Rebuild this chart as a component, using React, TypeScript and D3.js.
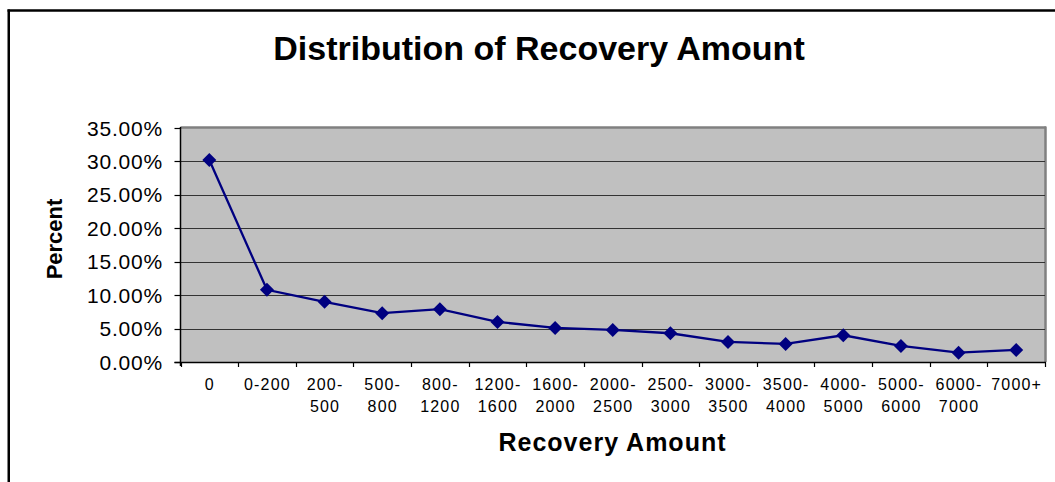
import React from "react";
import * as d3 from "d3";

const categories: string[][] = [
  ["0"], ["0-200"], ["200-", "500"], ["500-", "800"], ["800-", "1200"],
  ["1200-", "1600"], ["1600-", "2000"], ["2000-", "2500"], ["2500-", "3000"],
  ["3000-", "3500"], ["3500-", "4000"], ["4000-", "5000"], ["5000-", "6000"],
  ["6000-", "7000"], ["7000+"],
];
const percents: number[] = [30.2, 10.8, 9.0, 7.3, 7.9, 6.0, 5.1, 4.8, 4.3, 3.0, 2.7, 4.0, 2.4, 1.4, 1.8];
const yTicks: number[] = [0, 5, 10, 15, 20, 25, 30, 35];

const W = 1055, H = 482;
const L = 180.5, R = 1045, T = 128, B = 362;
const FONT = "'Liberation Sans', Arial, sans-serif";

export default function App() {
  const keys = categories.map((c) => c.join(""));
  const x = d3.scaleBand<string>().domain(keys).range([L, R]).padding(0);
  const y = d3.scaleLinear().domain([0, 35]).range([B, T]);
  const line = d3
    .line<number>()
    .x((_, i) => (x(keys[i]) as number) + x.bandwidth() / 2)
    .y((d) => y(d));
  const marker = d3.symbol(d3.symbolSquare, 98)() as string;

  return (
    <svg
      width={W}
      height={H}
      style={{ position: "absolute", left: 0, top: 0, display: "block", background: "#fff" }}
    >
      {/* outer frame */}
      <line x1={8.75} x2={8.75} y1={9.5} y2={H} stroke="#000" strokeWidth={2.5} />
      <line x1={7.5} x2={W} y1={10.5} y2={10.5} stroke="#000" strokeWidth={2.5} />

      <text x={539} y={60} textAnchor="middle" fontFamily={FONT} fontWeight="bold" fontSize={34}>
        Distribution of Recovery Amount
      </text>

      {/* plot area */}
      <rect x={L} y={T} width={R - L} height={B - T} fill="#C0C0C0" />
      <line x1={L} x2={R + 1} y1={T - 0.5} y2={T - 0.5} stroke="#808080" strokeWidth={2.5} />
      <line x1={R + 0.5} x2={R + 0.5} y1={T - 1.5} y2={B} stroke="#808080" strokeWidth={2.5} />
      {yTicks.filter((t) => t > 0 && t < 35).map((t) => (
        <line key={t} x1={L} x2={R} y1={Math.round(y(t)) + 0.5} y2={Math.round(y(t)) + 0.5} stroke="#333" strokeWidth={1.2} />
      ))}

      {/* y axis */}
      <line x1={L} x2={L} y1={T - 1} y2={B + 4} stroke="#000" strokeWidth={1.5} />
      {yTicks.map((t) => (
        <g key={t}>
          <line x1={L - 6} x2={L} y1={Math.round(y(t)) + 0.5} y2={Math.round(y(t)) + 0.5} stroke="#000" strokeWidth={1.2} />
          <text
            x={163}
            y={y(t) + 7.5}
            textAnchor="end"
            fontFamily={FONT}
            fontSize={21}
            letterSpacing={0.8}
          >
            {t.toFixed(2) + "%"}
          </text>
        </g>
      ))}

      {/* x axis */}
      <line x1={L - 6} x2={R + 1} y1={B + 0.5} y2={B + 0.5} stroke="#000" strokeWidth={1.5} />
      {keys.map((k, i) => (
        <line key={"t" + i} x1={Math.round(x(k) as number) + 0.5} x2={Math.round(x(k) as number) + 0.5} y1={B} y2={B + 5} stroke="#000" strokeWidth={1.2} />
      ))}
      <line x1={R + 0.5} x2={R + 0.5} y1={B} y2={B + 5} stroke="#000" strokeWidth={1.2} />
      {categories.map((c, i) => (
        <text
          key={"l" + i}
          x={(x(keys[i]) as number) + x.bandwidth() / 2 + 0.5}
          y={389.5}
          textAnchor="middle"
          fontFamily={FONT}
          fontSize={16}
          letterSpacing={1.2}
        >
          {c.map((s, j) => (
            <tspan key={j} x={(x(keys[i]) as number) + x.bandwidth() / 2 + 0.5} y={389.5 + j * 22.5}>
              {s}
            </tspan>
          ))}
        </text>
      ))}

      {/* series */}
      <path d={line(percents) as string} fill="none" stroke="#000080" strokeWidth={2.3} />
      {percents.map((v, i) => (
        <path
          key={"m" + i}
          d={marker}
          transform={`translate(${(x(keys[i]) as number) + x.bandwidth() / 2},${y(v)}) rotate(45)`}
          fill="#000080"
        />
      ))}

      <text x={612.5} y={451} textAnchor="middle" fontFamily={FONT} fontWeight="bold" fontSize={25} letterSpacing={1}>
        Recovery Amount
      </text>
      <text
        transform="translate(62,239) rotate(-90)"
        textAnchor="middle"
        fontFamily={FONT}
        fontWeight="bold"
        fontSize={22}
      >
        Percent
      </text>
    </svg>
  );
}
